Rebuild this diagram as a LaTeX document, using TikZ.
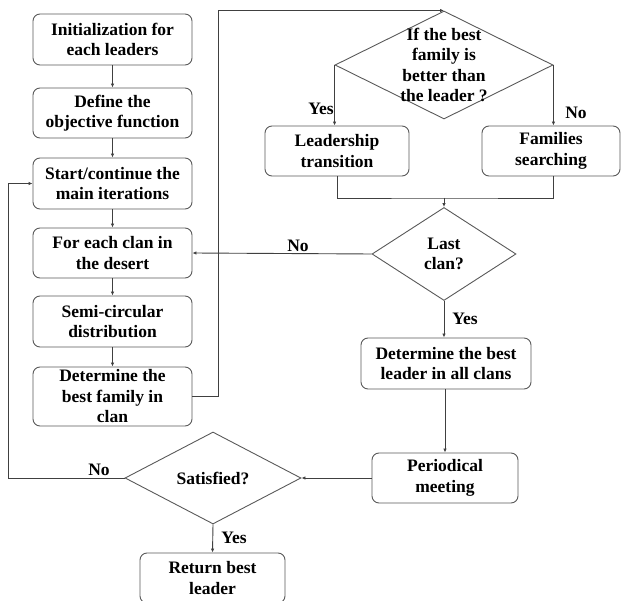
\documentclass[tikz,border=0pt]{standalone}
\usepackage{fontspec}
\setmainfont{Liberation Serif}
\usetikzlibrary{shapes.geometric,arrows.meta}
\begin{document}
\begin{tikzpicture}[x=1pt,y=-1pt,
  font=\fontsize{17.5}{20.5}\selectfont\bfseries,
  box/.style={draw=black!65, line width=0.9pt, rounded corners=7pt, align=center, inner sep=0pt},
  decision/.style={draw=black!65, line width=0.9pt, diamond, inner sep=0pt, minimum width=#1},
  conn/.style={draw=black!75, line width=0.9pt},
  arrow/.style={conn, -{Latex[length=4pt,width=3.5pt]}},
  lbl/.style={inner sep=0pt}
]
\useasboundingbox (0,0) rectangle (622,601);
% left column
\node[box, minimum width=159, minimum height=51] (b1) at (112.5,39.5) {Initialization for\\each leaders};
\node[box, minimum width=159, minimum height=50] (b2) at (112.5,113) {Define the\\objective function};
\node[box, minimum width=159, minimum height=51] (b3) at (112.5,183.5) {Start/continue the\\main iterations};
\node[box, minimum width=159, minimum height=50] (b4) at (112.5,253) {For each clan in\\the desert};
\node[box, minimum width=159, minimum height=51] (b5) at (112.5,321.5) {Semi-circular\\distribution};
\node[box, minimum width=159, minimum height=59] (b6) at (112.5,396.5) {Determine the\\best family in\\clan};
% right part
\node[decision=218, minimum height=108, label={[align=center,lbl]center:If the best\\family is\\better than\\the leader ?}] (d1) at (444,65) {};
\node[box, minimum width=144, minimum height=50] (lead) at (337,151) {Leadership\\transition};
\node[box, minimum width=138, minimum height=50] (fam) at (551,151) {Families\\searching};
\node[decision=144, minimum height=93, label={[align=center,lbl]center:Last\\clan?}] (last) at (444,254) {};
\node[box, minimum width=170, minimum height=51] (best) at (446,363.5) {Determine the best\\leader in all clans};
\node[box, minimum width=146, minimum height=50] (per) at (445,478) {Periodical\\meeting};
\node[decision=176, minimum height=92, label={[align=center,lbl]center:Satisfied?}] (sat) at (213,478) {};
\node[box, minimum width=145, minimum height=50] (ret) at (212.5,578) {Return best\\leader};
% connectors
\draw[arrow] (b1) -- (b2);
\draw[arrow] (b2) -- (b3);
\draw[arrow] (b3) -- (b4);
\draw[arrow] (b4) -- (b5);
\draw[arrow] (b5) -- (b6);
\draw[arrow] (b6.east) -- ++(26,0) |- (d1.north);
\draw[arrow] (d1.west) -- (d1.west |- lead.north);
\draw[arrow] (d1.east) -- (d1.east |- fam.north);
\coordinate (m) at (444,198);
\draw[conn] (lead.south) |- (m) -| (d1.east |- fam.south);
\draw[arrow] (m) -- (last.north);
\draw[arrow] (last.west) -- (b4.east);
\draw[arrow] (last.south) -- (best.north -| last.south);
\draw[arrow] (best.south -| per.north) -- (per.north);
\draw[arrow] (per.west) -- (sat.east);
\coordinate (loop) at (8,478);
\draw[arrow] (sat.west) -- (loop) |- (b3.west);
\draw[arrow] (sat.south) -- (ret.north);
% labels
\node[lbl] (l1) at (321,109) {Yes};
\node[lbl] (l2) at (576,113) {No};
\node[lbl] (l3) at (298,246) {No};
\node[lbl] (l4) at (465,319) {Yes};
\node[lbl] (l5) at (99,470) {No};
\node[lbl] (l6) at (234,538) {Yes};
\end{tikzpicture}
\end{document}
